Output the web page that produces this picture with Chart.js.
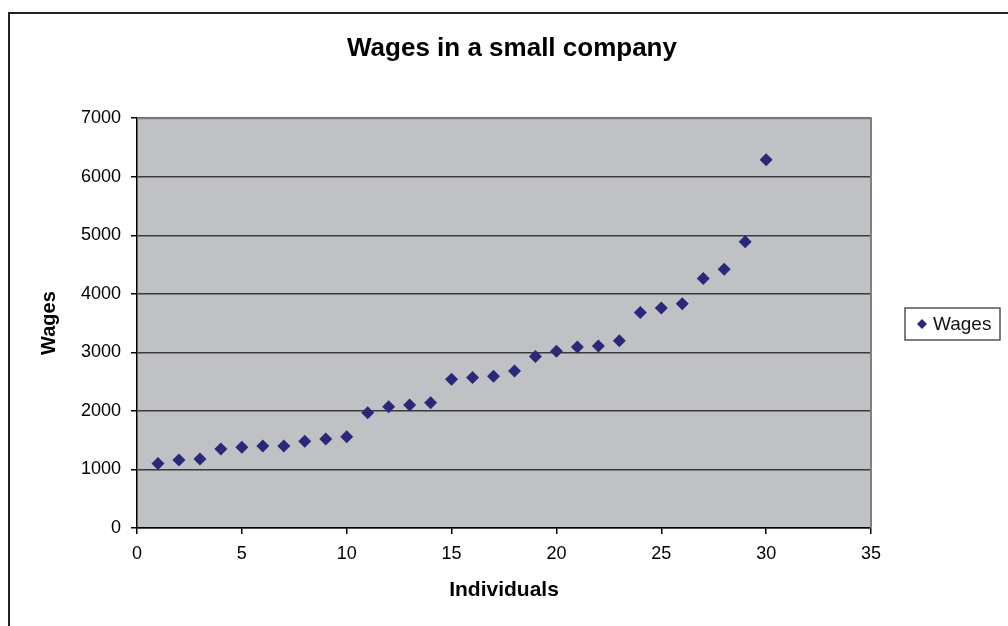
<!DOCTYPE html>
<html>
<head>
<meta charset="utf-8">
<script src="https://cdn.jsdelivr.net/npm/chart.js@4.4.1/dist/chart.umd.min.js"></script>
<style>
  html, body { margin: 0; padding: 0; background: #fff; }
  #wrap { position: relative; width: 1008px; height: 626px; }
</style>
</head>
<body>
<div id="wrap"><canvas id="wagesChart" width="1008" height="626"></canvas></div>
<script>
const individuals = [1, 2, 3, 4, 5, 6, 7, 8, 9, 10, 11, 12, 13, 14, 15,
  16, 17, 18, 19, 20, 21, 22, 23, 24, 25, 26, 27, 28, 29, 30];
const wages = [1100, 1160, 1180, 1350, 1380, 1400, 1400, 1480, 1520, 1560,
  1970, 2070, 2100, 2140, 2540, 2570, 2590, 2680, 2930, 3020,
  3090, 3110, 3200, 3680, 3760, 3830, 4260, 4420, 4890, 6290];
const xTickValues = [0, 5, 10, 15, 20, 25, 30, 35];
const yTickValues = [0, 1000, 2000, 3000, 4000, 5000, 6000, 7000];

const FONT = "'Liberation Sans', Arial, sans-serif";
const MARKER = "#2a2879";

// outer frame, grey plot area and its right edge
const frameplugin = {
  id: "frame",
  beforeDraw: function (chart) {
    const ctx = chart.ctx;
    const a = chart.chartArea;
    ctx.save();
    ctx.fillStyle = "#bfc1c4";
    ctx.fillRect(a.left, a.top, a.right - a.left, a.bottom - a.top);
    ctx.strokeStyle = "#222";
    ctx.lineWidth = 2;
    ctx.beginPath();
    ctx.moveTo(9, 626);
    ctx.lineTo(9, 13);
    ctx.lineTo(1008, 13);
    ctx.stroke();
    ctx.restore();
  },
  afterDatasetsDraw: function (chart) {
    const ctx = chart.ctx;
    const a = chart.chartArea;
    ctx.save();
    ctx.strokeStyle = "#7d7f82";
    ctx.lineWidth = 2;
    ctx.beginPath();
    ctx.moveTo(a.left, a.top);
    ctx.lineTo(a.right, a.top);
    ctx.lineTo(a.right, a.bottom);
    ctx.stroke();
    ctx.restore();
  },
};

// legend box on the right, like the spreadsheet one
const legendBox = {
  id: "legendBox",
  afterDraw: function (chart) {
    const ctx = chart.ctx;
    const ds = chart.data.datasets[0];
    ctx.save();
    ctx.fillStyle = "#fff";
    ctx.fillRect(905, 308, 95, 32);
    ctx.strokeStyle = "#555";
    ctx.lineWidth = 1.5;
    ctx.strokeRect(905, 308, 95, 32);
    Chart.helpers.drawPoint(ctx, { pointStyle: "rectRot", radius: 5, borderWidth: 0 }, 922, 324);
    ctx.fillStyle = ds.backgroundColor;
    ctx.fill();
    ctx.fillStyle = "#111";
    ctx.font = "19px " + FONT;
    ctx.textBaseline = "middle";
    ctx.fillText(ds.label, 933, 325);
    ctx.restore();
  },
};

const points = individuals.map(function (x, i) {
  return { x: x, y: wages[i] };
});

new Chart(document.getElementById("wagesChart"), {
  type: "scatter",
  data: {
    datasets: [{
      label: "Wages",
      data: points,
      pointStyle: "rectRot",
      pointRadius: 6.5,
      pointHoverRadius: 6.5,
      backgroundColor: MARKER,
      borderColor: MARKER,
      borderWidth: 0,
    }],
  },
  options: {
    responsive: false,
    devicePixelRatio: 1,
    animation: false,
    layout: { padding: { left: 16, right: 0, top: 33, bottom: 0 } },
    plugins: {
      legend: { display: false },
      tooltip: { enabled: false },
      title: {
        display: true,
        text: "Wages in a small company",
        color: "#000",
        font: { family: FONT, size: 26, weight: "bold" },
        padding: { top: 0, bottom: 54 },
      },
    },
    scales: {
      x: {
        type: "linear",
        min: 0,
        max: 35,
        afterBuildTicks: function (s) {
          s.ticks = xTickValues.map(function (v) { return { value: v }; });
        },
        afterFit: function (s) { s.height = 98; },
        ticks: {
          color: "#000", font: { family: FONT, size: 18 }, padding: 9, maxRotation: 0,
          callback: function (v) { return String(v); },
        },
        grid: { drawOnChartArea: false, drawTicks: true, tickLength: 6, color: "#000", lineWidth: 1.5 },
        border: { color: "#000", width: 1.5 },
        title: {
          display: true,
          text: "Individuals",
          color: "#000",
          font: { family: FONT, size: 21, weight: "bold" },
          padding: { top: 0, bottom: 23 },
        },
      },
      y: {
        min: 0,
        max: 7000,
        afterBuildTicks: function (s) {
          s.ticks = yTickValues.map(function (v) { return { value: v }; });
        },
        afterFit: function (s) { s.width = 121; },
        ticks: {
          color: "#000", font: { family: FONT, size: 18 }, padding: 10,
          callback: function (v) { return String(v); },
        },
        grid: { color: "#3a3a3a", lineWidth: 1.5, drawTicks: true, tickLength: 6, tickColor: "#000" },
        border: { color: "#000", width: 1.5 },
        title: {
          display: true,
          text: "Wages",
          color: "#000",
          font: { family: FONT, size: 20, weight: "bold" },
          padding: { top: 21, bottom: 0 },
        },
      },
      // empty axis that only keeps room for the legend on the right
      spare: {
        position: "right",
        display: true,
        afterFit: function (s) { s.width = 137; },
        ticks: { display: false },
        grid: { display: false },
        border: { display: false },
      },
    },
  },
  plugins: [frameplugin, legendBox],
});
</script>
</body>
</html>
